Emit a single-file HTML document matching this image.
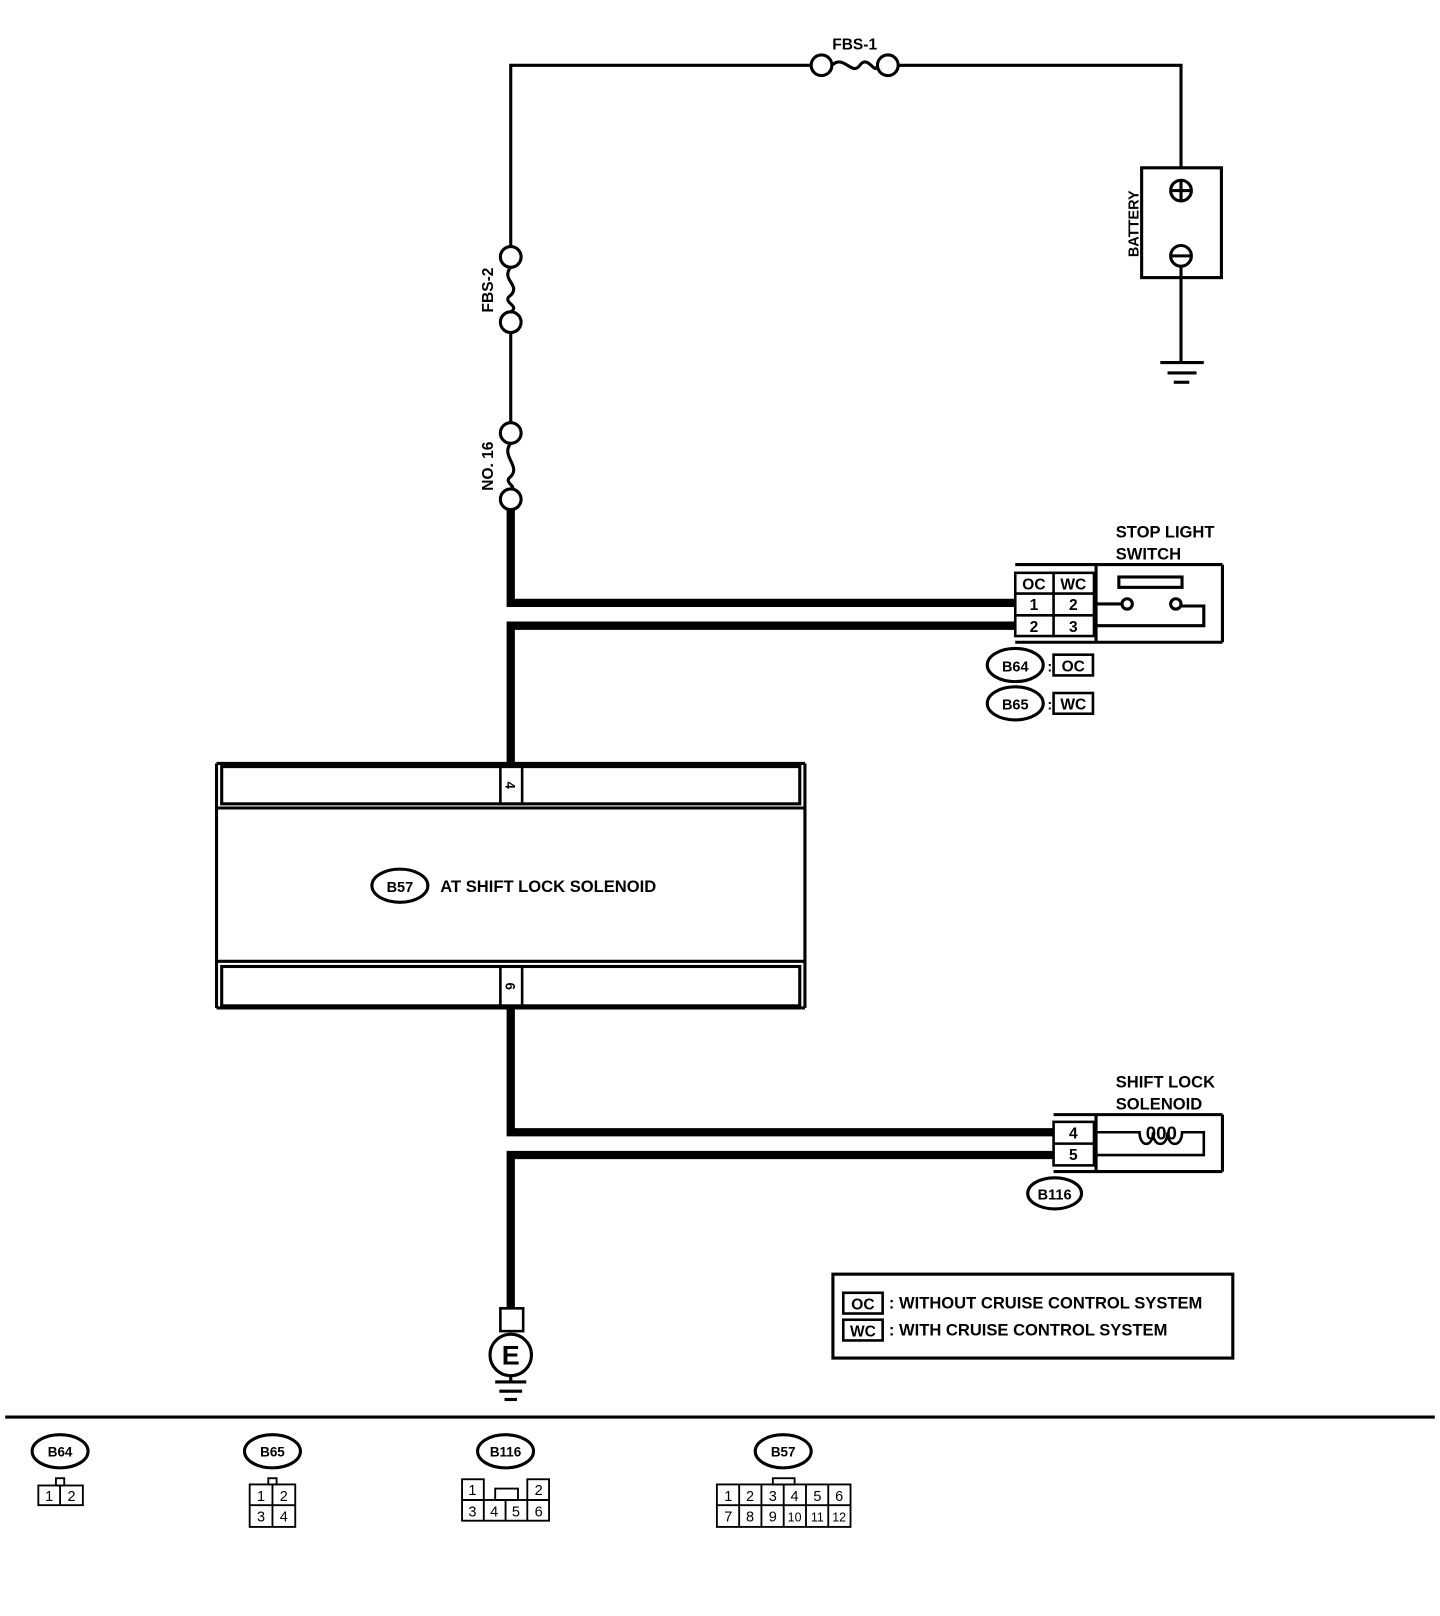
<!DOCTYPE html>
<html><head><meta charset="utf-8"><style>
html,body{margin:0;padding:0;background:#fff;}
svg{display:block;}
text{font-family:"Liberation Sans",sans-serif;font-weight:bold;fill:#000;}
</style></head><body>
<svg width="1440" height="1616" viewBox="0 0 1390 1560" preserveAspectRatio="none" xmlns="http://www.w3.org/2000/svg">
<g fill="none" stroke="#000" stroke-width="3">
<!-- top wire -->
<polyline points="493,238 493,63 783,63"/>
<polyline points="867,63 1140,63 1140,162"/>
<circle cx="793" cy="63" r="10" fill="#fff"/>
<circle cx="857" cy="63" r="10" fill="#fff"/>
<path d="M803,63 C815,52 822,74 830,63 C838,52 845,74 847,63"/>
<text x="825" y="48" font-size="15" text-anchor="middle" stroke="none">FBS-1</text>
<!-- battery -->
<rect x="1102" y="162" width="77" height="106"/>
<circle cx="1140" cy="184" r="10"/>
<line x1="1130" y1="184" x2="1150" y2="184"/><line x1="1140" y1="174" x2="1140" y2="194"/>
<circle cx="1140" cy="247" r="10"/>
<line x1="1130" y1="247" x2="1150" y2="247"/>
<line x1="1140" y1="257" x2="1140" y2="350"/>
<line x1="1120" y1="350" x2="1162" y2="350"/>
<line x1="1127" y1="360" x2="1155" y2="360"/>
<line x1="1133" y1="369" x2="1148" y2="369"/>
<text transform="translate(1099,216) rotate(-90)" font-size="14" text-anchor="middle" stroke="none">BATTERY</text>
<!-- FBS-2 -->
<circle cx="493" cy="248" r="10"/>
<path d="M493,258 C483,270 503,275 493,285 C483,292 503,295 493,301"/>
<circle cx="493" cy="311" r="10"/>
<text transform="translate(476,280) rotate(-90)" font-size="15" text-anchor="middle" stroke="none">FBS-2</text>
<line x1="493" y1="321" x2="493" y2="408"/>
<circle cx="493" cy="418" r="10"/>
<path d="M493,428 C483,440 503,450 493,460 C485,466 500,470 493,472"/>
<circle cx="493" cy="482" r="10"/>
<text transform="translate(476,450) rotate(-90)" font-size="15" text-anchor="middle" stroke="none">NO. 16</text>
</g>
<!-- thick wires -->
<g fill="none" stroke="#000" stroke-width="8">
<polyline points="493,492 493,582 980,582"/>
<polyline points="980,604 493,604 493,737"/>
<polyline points="493,973 493,1093 1017,1093"/>
<polyline points="1017,1115 493,1115 493,1263"/>
</g>
<g fill="none" stroke="#000" stroke-width="3">
<!-- stop light switch -->
<line x1="980" y1="545" x2="1180" y2="545"/>
<line x1="980" y1="620" x2="1180" y2="620"/>
<line x1="1180" y1="545" x2="1180" y2="620"/>
<line x1="1058" y1="545" x2="1058" y2="620"/>
<rect x="980" y="553" width="76" height="61" stroke-width="2.5"/>
<line x1="980" y1="573" x2="1056" y2="573" stroke-width="2.5"/>
<line x1="980" y1="594" x2="1056" y2="594" stroke-width="2.5"/>
<line x1="1017" y1="553" x2="1017" y2="614" stroke-width="2.5"/>
<rect x="1080" y="557" width="61" height="10"/>
<line x1="1058" y1="583" x2="1082" y2="583"/>
<circle cx="1088" cy="583" r="5"/>
<circle cx="1135" cy="583" r="5"/>
<polyline points="1140,585 1162,585 1162,604 1058,604"/>
<ellipse cx="980" cy="642" rx="27" ry="16"/>
<rect x="1017" y="632" width="38" height="20" stroke-width="2.5"/>
<ellipse cx="980" cy="679" rx="27" ry="16"/>
<rect x="1017" y="669" width="38" height="20" stroke-width="2.5"/>
<!-- AT shift lock solenoid -->
<line x1="209" y1="737" x2="209" y2="973"/>
<line x1="777" y1="737" x2="777" y2="973"/>
<line x1="209" y1="737" x2="777" y2="737"/>
<rect x="214" y="740" width="558" height="36"/>
<line x1="209" y1="780" x2="777" y2="780"/>
<line x1="209" y1="928" x2="777" y2="928"/>
<rect x="214" y="933" width="558" height="38"/>
<line x1="209" y1="973" x2="777" y2="973"/>
<rect x="483" y="740" width="21" height="36" stroke-width="2.5"/>
<rect x="483" y="933" width="21" height="38" stroke-width="2.5"/>
<ellipse cx="386" cy="855" rx="27" ry="16"/>
<!-- shift lock solenoid -->
<line x1="1017" y1="1076" x2="1180" y2="1076"/>
<line x1="1017" y1="1131" x2="1180" y2="1131"/>
<line x1="1180" y1="1076" x2="1180" y2="1131"/>
<line x1="1058" y1="1076" x2="1058" y2="1131"/>
<rect x="1017" y="1083" width="39" height="42" stroke-width="2.5"/>
<line x1="1017" y1="1104" x2="1056" y2="1104" stroke-width="2.5"/>
<path d="M1058,1093 L1100,1093 C1100,1108 1113,1108 1113,1093 C1113,1108 1127,1108 1127,1093 C1127,1108 1141,1108 1141,1093 L1160,1093 L1162,1093 L1162,1115 L1058,1115" stroke-width="2.5"/>
<ellipse cx="1018" cy="1152" rx="26" ry="15"/>
<!-- E ground -->
<rect x="483" y="1263" width="22" height="22" stroke-width="2.5"/>
<circle cx="493" cy="1308" r="20"/>
<line x1="493" y1="1328" x2="493" y2="1334"/>
<line x1="478" y1="1334" x2="508" y2="1334"/>
<line x1="482" y1="1343" x2="504" y2="1343"/>
<line x1="487" y1="1351" x2="499" y2="1351"/>
<!-- legend -->
<rect x="804" y="1230" width="386" height="81"/>
<rect x="814" y="1248" width="38" height="20" stroke-width="2.5"/>
<rect x="814" y="1274" width="38" height="20" stroke-width="2.5"/>
<!-- separator -->
<line x1="5" y1="1368" x2="1385" y2="1368"/>
<!-- bottom connectors -->
<ellipse cx="58" cy="1401" rx="27" ry="16"/>
<ellipse cx="263" cy="1401" rx="27" ry="16"/>
<ellipse cx="488" cy="1401" rx="27" ry="16"/>
<ellipse cx="756" cy="1401" rx="27" ry="16"/>
</g>
<g fill="none" stroke="#000" stroke-width="1.8">
<rect x="37" y="1434" width="43" height="19"/><line x1="58" y1="1434" x2="58" y2="1453"/>
<rect x="54" y="1427" width="8" height="7"/>
<rect x="241" y="1433" width="44" height="41"/><line x1="263" y1="1433" x2="263" y2="1474"/><line x1="241" y1="1453" x2="285" y2="1453"/>
<rect x="259" y="1427" width="8" height="6"/>
<rect x="446" y="1428" width="21" height="20"/><rect x="509" y="1428" width="21" height="20"/>
<rect x="446" y="1448" width="84" height="20"/>
<line x1="467" y1="1448" x2="467" y2="1468"/><line x1="488" y1="1448" x2="488" y2="1468"/><line x1="509" y1="1448" x2="509" y2="1468"/>
<rect x="478" y="1437" width="22" height="11"/>
<rect x="692" y="1433" width="129" height="41"/>
<line x1="692" y1="1453" x2="821" y2="1453"/>
<line x1="713.5" y1="1433" x2="713.5" y2="1474"/><line x1="735" y1="1433" x2="735" y2="1474"/><line x1="756.5" y1="1433" x2="756.5" y2="1474"/><line x1="778" y1="1433" x2="778" y2="1474"/><line x1="799.5" y1="1433" x2="799.5" y2="1474"/>
<rect x="746" y="1427" width="21" height="6"/>
</g>
<g font-size="16">
<text x="1077" y="519">STOP LIGHT</text>
<text x="1077" y="540">SWITCH</text>
<text x="998" y="569" text-anchor="middle" font-size="15">OC</text>
<text x="1036" y="569" text-anchor="middle" font-size="15">WC</text>
<text x="998" y="589" text-anchor="middle" font-size="15">1</text>
<text x="1036" y="589" text-anchor="middle" font-size="15">2</text>
<text x="998" y="610" text-anchor="middle" font-size="15">2</text>
<text x="1036" y="610" text-anchor="middle" font-size="15">3</text>
<text x="980" y="648" text-anchor="middle" font-size="14">B64</text>
<text x="1011" y="648" font-size="14">:</text>
<text x="1036" y="648" text-anchor="middle" font-size="15">OC</text>
<text x="980" y="685" text-anchor="middle" font-size="14">B65</text>
<text x="1011" y="685" font-size="14">:</text>
<text x="1036" y="685" text-anchor="middle" font-size="15">WC</text>
<text transform="translate(488,758) rotate(90)" text-anchor="middle" font-size="13">4</text>
<text transform="translate(488,952) rotate(90)" text-anchor="middle" font-size="13">6</text>
<text x="386" y="861" text-anchor="middle" font-size="14">B57</text>
<text x="425" y="861" font-size="16">AT SHIFT LOCK SOLENOID</text>
<text x="1077" y="1050">SHIFT LOCK</text>
<text x="1077" y="1071">SOLENOID</text>
<text x="1036" y="1099" text-anchor="middle" font-size="15">4</text>
<text x="1036" y="1120" text-anchor="middle" font-size="15">5</text>
<text x="1121" y="1100" text-anchor="middle" font-size="18" font-weight="normal">000</text>
<text x="1018" y="1158" text-anchor="middle" font-size="14">B116</text>
<text x="493" y="1317" text-anchor="middle" font-size="26">E</text>
<text x="833" y="1264" text-anchor="middle" font-size="15">OC</text>
<text x="833" y="1290" text-anchor="middle" font-size="15">WC</text>
<text x="858" y="1263" font-size="16">: WITHOUT CRUISE CONTROL SYSTEM</text>
<text x="858" y="1289" font-size="16">: WITH CRUISE CONTROL SYSTEM</text>
<text x="58" y="1406" text-anchor="middle" font-size="13">B64</text>
<text x="263" y="1406" text-anchor="middle" font-size="13">B65</text>
<text x="488" y="1406" text-anchor="middle" font-size="13">B116</text>
<text x="756" y="1406" text-anchor="middle" font-size="13">B57</text>
</g>
<g font-size="14" font-weight="normal" text-anchor="middle">
<text x="47.5" y="1449" style="font-weight:normal">1</text><text x="69" y="1449" style="font-weight:normal">2</text>
<text x="252" y="1449" style="font-weight:normal">1</text><text x="274" y="1449" style="font-weight:normal">2</text>
<text x="252" y="1469" style="font-weight:normal">3</text><text x="274" y="1469" style="font-weight:normal">4</text>
<text x="456" y="1443" style="font-weight:normal">1</text><text x="520" y="1443" style="font-weight:normal">2</text>
<text x="456" y="1464" style="font-weight:normal">3</text><text x="477" y="1464" style="font-weight:normal">4</text><text x="498" y="1464" style="font-weight:normal">5</text><text x="520" y="1464" style="font-weight:normal">6</text>
<text x="703" y="1449" style="font-weight:normal">1</text><text x="724" y="1449" style="font-weight:normal">2</text><text x="746" y="1449" style="font-weight:normal">3</text><text x="767" y="1449" style="font-weight:normal">4</text><text x="789" y="1449" style="font-weight:normal">5</text><text x="810" y="1449" style="font-weight:normal">6</text>
<text x="703" y="1469" style="font-weight:normal">7</text><text x="724" y="1469" style="font-weight:normal">8</text><text x="746" y="1469" style="font-weight:normal">9</text><text x="767" y="1469" style="font-weight:normal;font-size:12px">10</text><text x="789" y="1469" style="font-weight:normal;font-size:12px">11</text><text x="810" y="1469" style="font-weight:normal;font-size:12px">12</text>
</g>
</svg>
</body></html>
